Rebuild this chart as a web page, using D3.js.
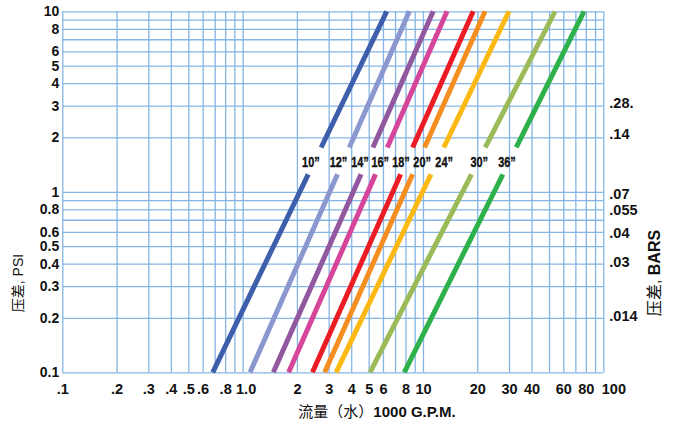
<!DOCTYPE html>
<html><head><meta charset="utf-8">
<script src="https://cdn.jsdelivr.net/npm/d3@7"></script>
<style>
html,body{margin:0;padding:0;background:#fff;}
svg{display:block;}
.tick text{font-family:"Liberation Sans",Arial,sans-serif;font-weight:bold;font-size:14.5px;fill:#111;}
</style></head>
<body>
<svg id="c" width="676" height="423"></svg>
<script>
// ---- data ----
const sizes = ['10”','12”','14”','16”','18”','20”','24”','30”','36”'];
const flowAtLow  = [0.683, 1.10, 1.48, 1.80, 2.44, 2.85, 3.30, 5.09, 7.88]; // 1000 GPM at 0.1 psi
const flowAtHigh = [6.30, 8.41, 11.4, 13.6, 19.0, 22.1, 30.0, 54.0, 78.2];  // 1000 GPM at 10 psi
const psiLow = 0.1, psiHigh = 10;
const gapPsi = [1.25, 1.76];
const labelFlow = [2.39, 3.40, 4.47, 5.80, 7.55, 9.89, 13.1, 20.5, 29.2];
const labelPsi = 1.37;
const colors = ['#3d5eab','#8b97cf','#92589f','#d5469b','#ec1c24','#f58e21','#fdb913','#9bbb59','#2eb04b'];

const xTickValues = [0.1,0.2,0.3,0.4,0.5,0.6,0.8,1,2,3,4,5,6,8,10,20,30,40,60,80,100];
const xTickLabels = ['.1','.2','.3','.4','.5','.6','.8','1.0','2','3','4','5','6','8','10','20','30','40','60','80','100'];
const yTickValues = [10,8,6,5,4,3,2,1,0.8,0.6,0.5,0.4,0.3,0.2,0.1];
const yTickLabels = ['10','8','6','5','4','3','2','1','0.8','0.6','0.5','0.4','0.3','0.2','0.1'];
const barPsi = [3.1,2.1,0.98,0.79,0.59,0.41,0.205];
const barLabels = ['.28.','.14','.07','.055','.04','.03','.014'];

// ---- layout ----
const L = 62.3, R = 603.3, T = 11.3, B = 372.3;
const x = d3.scaleLog().domain([0.1,100]).range([L,R]);
const y = d3.scaleLog().domain([0.1,10]).range([B,T]);
const svg = d3.select('#c');
const gridColor = '#86b5e5';

// grid values
const gridX = [], gridY = [];
[0.1,1,10].forEach(d=>{for(let k=1;k<=9;k++) gridX.push(+(d*k).toPrecision(3));});
gridX.push(100);
[0.1,1].forEach(d=>{for(let k=1;k<=9;k++) gridY.push(+(d*k).toPrecision(3));});
gridY.push(10);

const gx = svg.append('g').attr('transform',`translate(0,${B})`)
  .call(d3.axisBottom(x).tickValues(gridX).tickSize(-(B-T)).tickFormat(''));
gx.select('.domain').remove();
gx.selectAll('line').attr('stroke',gridColor).attr('stroke-width',1.3);
const gy = svg.append('g').attr('transform',`translate(${L},0)`)
  .call(d3.axisLeft(y).tickValues(gridY).tickSize(-(R-L)).tickFormat(''));
gy.select('.domain').remove();
gy.selectAll('line').attr('stroke',gridColor).attr('stroke-width',1.3);

// axes labels
const ax = svg.append('g').attr('transform',`translate(0,${B})`)
  .call(d3.axisBottom(x).tickValues(xTickValues).tickSize(0).tickPadding(11)
    .tickFormat((d,i)=>xTickLabels[i]));
ax.select('.domain').remove();
ax.selectAll('.tick text').filter(d=>d===100).attr('text-anchor','start').attr('dx',-2);
ax.selectAll('.tick text').filter(d=>d===1).attr('dx',3);

const ay = svg.append('g').attr('transform',`translate(${L-3},0)`)
  .call(d3.axisLeft(y).tickValues(yTickValues).tickSize(0).tickPadding(0)
    .tickFormat((d,i)=>yTickLabels[i]));
ay.select('.domain').remove();
ay.selectAll('.tick text').style('font-size','14px');

const ar = svg.append('g').attr('transform',`translate(${R+6},0)`)
  .call(d3.axisRight(y).tickValues(barPsi).tickSize(0).tickPadding(0)
    .tickFormat((d,i)=>barLabels[i]));
ar.select('.domain').remove();

// pipe lines
const lx = (i,p)=>{
  const t = (Math.log10(p)-Math.log10(psiLow))/(Math.log10(psiHigh)-Math.log10(psiLow));
  return Math.pow(10, Math.log10(flowAtLow[i]) + t*(Math.log10(flowAtHigh[i])-Math.log10(flowAtLow[i])));
};
const lg = svg.append('g');
sizes.forEach((s,i)=>{
  [[psiLow,gapPsi[0]],[gapPsi[1],psiHigh]].forEach(([p0,p1])=>{
    lg.append('line')
      .attr('x1',x(lx(i,p0))).attr('y1',y(p0))
      .attr('x2',x(lx(i,p1))).attr('y2',y(p1))
      .attr('stroke',colors[i]).attr('stroke-width',5);
  });
  lg.append('text').attr('x',x(labelFlow[i])).attr('y',y(labelPsi))
    .attr('text-anchor','middle')
    .attr('textLength',17.5).attr('lengthAdjust','spacingAndGlyphs')
    .style('font-family','"Liberation Sans",Arial,sans-serif')
    .style('font-weight','bold').style('font-size','15px').style('fill','#111')
    .style('stroke','#111').style('stroke-width','0.4px')
    .text(s);
});

// titles
const tf = '"Liberation Sans","Noto Sans CJK SC",sans-serif';
const bt = svg.append('text').attr('x',377).attr('y',417).attr('text-anchor','middle')
  .style('font-family',tf).style('font-size','15px').style('fill','#111');
bt.append('tspan').text('流量（水）');
bt.append('tspan').style('font-weight','bold').text('1000 G.P.M.');

const lt = svg.append('text').attr('transform','translate(23,283) rotate(-90)').attr('text-anchor','middle')
  .style('font-family',tf).style('font-size','14px').style('fill','#111');
lt.text('压差, PSI');

const rt = svg.append('text').attr('transform','translate(660,273) rotate(-90)').attr('text-anchor','middle')
  .style('font-family',tf).style('font-size','16px').style('fill','#111');
rt.append('tspan').text('压差, ');
rt.append('tspan').style('font-weight','bold').text('BARS');
</script>
</body></html>
